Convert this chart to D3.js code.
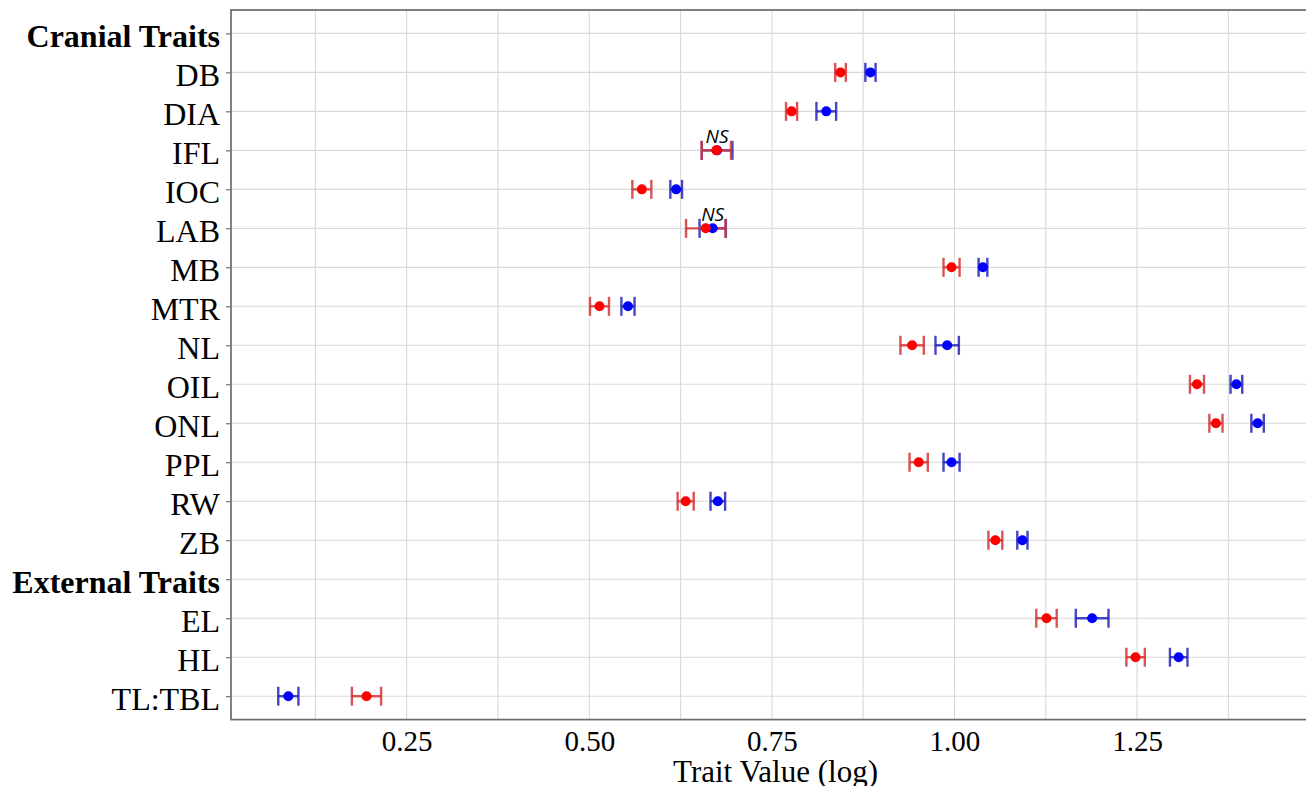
<!DOCTYPE html>
<html>
<head>
    <meta charset="UTF-8">
    <title>Trait Value (log)</title>
    <script src="https://d3js.org/d3.v7.min.js"></script>
    <style>
        body { margin: 0; background: #fff; }
        svg { display: block; }
    </style>
</head>
<body>
    <svg width="1306" height="786"></svg>
<script>
    // categories, top to bottom (header rows have no values)
    var traits = ["Cranial Traits", "DB", "DIA", "IFL", "IOC", "LAB", "MB", "MTR", "NL", "OIL",
                  "ONL", "PPL", "RW", "ZB", "External Traits", "EL", "HL", "TL:TBL"];
    var headers = ["Cranial Traits", "External Traits"];

    // red group: mean and half-width of error bar
    var redMean = [null, 0.844, 0.777, 0.674, 0.572, 0.6595, 0.996, 0.514, 0.942, 1.332,
                   1.358, 0.951, 0.632, 1.056, null, 1.126, 1.248, 0.195];
    var redErr  = [null, 0.0073, 0.0076, 0.020, 0.013, 0.027, 0.011, 0.013, 0.016, 0.0096,
                   0.009, 0.0125, 0.011, 0.0095, null, 0.014, 0.0126, 0.020];

    // blue group
    var blueMean = [null, 0.885, 0.8245, 0.675, 0.619, 0.669, 1.039, 0.553, 0.990, 1.386,
                    1.415, 0.996, 0.676, 1.093, null, 1.1885, 1.307, 0.088];
    var blueErr  = [null, 0.007, 0.0135, 0.021, 0.008, 0.018, 0.006, 0.009, 0.016, 0.008,
                    0.0085, 0.011, 0.010, 0.007, null, 0.0224, 0.012, 0.0138];

    // rows marked not significant
    var nsTraits = ["IFL", "LAB"];

    var majorTicks = [0.25, 0.50, 0.75, 1.00, 1.25];
    var minorTicks = [0.125, 0.375, 0.625, 0.875, 1.125, 1.375];
    var xDomain = [0.0095, 1.4895];

    var panel = { left: 231, top: 10, right: 1312, bottom: 719.6 };
    var svg = d3.select("svg");

    var xScale = d3.scaleLinear().domain(xDomain).range([panel.left, panel.right]);
    var yScale = d3.scalePoint().domain(traits).range([panel.top, panel.bottom]).padding(0.6);

    // grid
    var grid = svg.append("g");
    grid.selectAll(".vgrid")
        .data(minorTicks.concat(majorTicks))
        .enter().append("line")
        .attr("x1", function(d) { return xScale(d); })
        .attr("x2", function(d) { return xScale(d); })
        .attr("y1", panel.top)
        .attr("y2", panel.bottom)
        .attr("stroke", "#d9d9d9")
        .attr("stroke-width", 1.1);
    grid.selectAll(".hgrid")
        .data(traits)
        .enter().append("line")
        .attr("x1", panel.left)
        .attr("x2", panel.right)
        .attr("y1", function(d) { return yScale(d); })
        .attr("y2", function(d) { return yScale(d); })
        .attr("stroke", "#d9d9d9")
        .attr("stroke-width", 1.1);

    // y axis
    var yAxis = d3.axisLeft(yScale).tickSize(5).tickPadding(6);
    var gy = svg.append("g")
        .attr("transform", "translate(" + panel.left + ",0)")
        .call(yAxis);
    gy.select(".domain").remove();
    gy.selectAll(".tick line").attr("stroke", "#555");
    gy.selectAll(".tick text")
        .attr("font-family", "'Liberation Serif', 'Times New Roman', serif")
        .attr("font-size", "32px")
        .attr("fill", "#000")
        .attr("dy", "0.4em")
        .attr("font-weight", function(d) { return headers.indexOf(d) >= 0 ? "bold" : "normal"; });

    // x axis (labels only)
    var xAxis = d3.axisBottom(xScale).tickValues(majorTicks).tickSize(0).tickPadding(10)
        .tickFormat(d3.format(".2f"));
    var gx = svg.append("g")
        .attr("transform", "translate(0," + panel.bottom + ")")
        .call(xAxis);
    gx.select(".domain").remove();
    gx.selectAll(".tick text")
        .attr("font-family", "'Liberation Serif', 'Times New Roman', serif")
        .attr("font-size", "29px")
        .attr("fill", "#000")
        .attr("dy", "0.75em");

    svg.append("text")
        .attr("x", (panel.left + panel.right) / 2 + 4)
        .attr("y", 782)
        .attr("text-anchor", "middle")
        .attr("font-family", "'Liberation Serif', 'Times New Roman', serif")
        .attr("font-size", "31px")
        .attr("fill", "#000")
        .text("Trait Value (log)");

    // error bars + points
    var groups = [
        { mean: blueMean, err: blueErr, bar: "#2424b8", dot: "#0000ff" },
        { mean: redMean, err: redErr, bar: "#d43535", dot: "#ff0000" }
    ];
    var capH = 9.5;
    groups.forEach(function(g) {
        var rows = traits.map(function(t, i) {
            return { trait: t, m: g.mean[i], e: g.err[i] };
        }).filter(function(r) { return r.m !== null; });

        var eb = svg.append("g")
            .attr("stroke", g.bar)
            .attr("stroke-width", 2.4)
            .attr("stroke-opacity", 0.85);
        eb.selectAll(".h").data(rows).enter().append("line")
            .attr("x1", function(r) { return xScale(r.m - r.e); })
            .attr("x2", function(r) { return xScale(r.m + r.e); })
            .attr("y1", function(r) { return yScale(r.trait); })
            .attr("y2", function(r) { return yScale(r.trait); });
        [-1, 1].forEach(function(s) {
            eb.selectAll(".c" + s).data(rows).enter().append("line")
                .attr("x1", function(r) { return xScale(r.m + s * r.e); })
                .attr("x2", function(r) { return xScale(r.m + s * r.e); })
                .attr("y1", function(r) { return yScale(r.trait) - capH; })
                .attr("y2", function(r) { return yScale(r.trait) + capH; });
        });
        g.rows = rows;
    });
    groups.forEach(function(g) {
        svg.append("g").selectAll("circle").data(g.rows).enter().append("circle")
            .attr("cx", function(r) { return xScale(r.m); })
            .attr("cy", function(r) { return yScale(r.trait); })
            .attr("r", 5)
            .attr("fill", g.dot);
    });

    // NS labels
    svg.append("g").selectAll("text")
        .data(nsTraits)
        .enter().append("text")
        .attr("x", function(t) { return xScale(blueMean[traits.indexOf(t)]); })
        .attr("y", function(t) { return yScale(t) - 7; })
        .attr("text-anchor", "middle")
        .attr("font-family", "'Open Sans', sans-serif")
        .attr("font-style", "italic")
        .attr("font-size", "19px")
        .attr("fill", "#000")
        .text("NS");

    // panel border
    svg.append("rect")
        .attr("x", panel.left)
        .attr("y", panel.top)
        .attr("width", panel.right - panel.left)
        .attr("height", panel.bottom - panel.top)
        .attr("fill", "none")
        .attr("stroke", "#6b6b6b")
        .attr("stroke-width", 1.7);
</script>
</body>
</html>
